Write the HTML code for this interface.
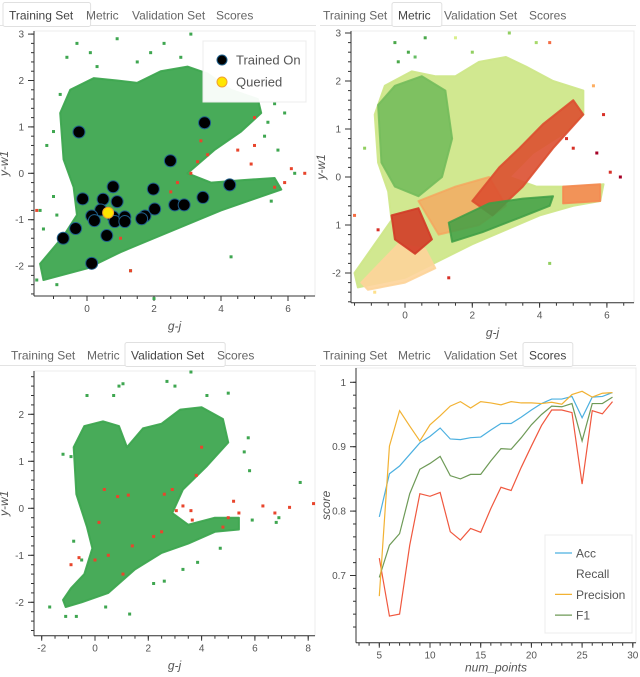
<!DOCTYPE html>
<html><head><meta charset="utf-8">
<style>
body{margin:0;background:#fff;width:640px;height:677px;overflow:hidden;font-family:"Liberation Sans",sans-serif}
svg{position:absolute;left:0;top:0}
text{font-family:"Liberation Sans",sans-serif}
</style></head>
<body>
<svg id="s" width="640" height="677" viewBox="0 0 640 677"></svg>
<script>
// ---- Scores chart data ----
const numPoints=[5,6,7,8,9,10,11,12,13,14,15,16,17,18,19,20,21,22,23,24,25,26,27,28];
const accVals=[0.791,0.858,0.870,0.888,0.906,0.916,0.929,0.912,0.911,0.914,0.915,0.926,0.936,0.936,0.946,0.957,0.967,0.974,0.974,0.978,0.945,0.977,0.978,0.984];
const recallVals=[0.727,0.637,0.640,0.747,0.827,0.823,0.829,0.768,0.755,0.773,0.767,0.804,0.837,0.832,0.868,0.901,0.933,0.957,0.957,0.953,0.842,0.956,0.951,0.970];
const precisionVals=[0.668,0.901,0.956,0.932,0.909,0.934,0.948,0.963,0.970,0.960,0.970,0.968,0.965,0.970,0.968,0.968,0.967,0.969,0.966,0.981,0.986,0.977,0.983,0.984];
const f1Vals=[0.697,0.747,0.765,0.827,0.865,0.874,0.885,0.855,0.850,0.857,0.857,0.878,0.897,0.896,0.914,0.934,0.950,0.963,0.962,0.967,0.909,0.967,0.967,0.977];
const scoreTicks=[0.7,0.8,0.9,1];
const scoreTickLabels=["0.7","0.8","0.9","1"];
const numTicks=[5,10,15,20,25,30];

// ---- Scatter data (g-j, y-w1) ----
const trainedX=[-0.24,3.51,2.49,4.26,0.78,1.98,-0.13,0.48,0.90,3.46,0.41,0.14,0.22,0.78,0.83,1.13,1.13,1.73,1.63,2.02,2.62,2.90,0.59,-0.34,-0.71,0.14];
const trainedY=[0.89,1.09,0.27,-0.25,-0.29,-0.34,-0.55,-0.56,-0.61,-0.52,-0.79,-0.92,-1.02,-0.94,-1.04,-0.94,-1.04,-0.92,-0.98,-0.77,-0.68,-0.68,-1.34,-1.19,-1.40,-1.94];
const queriedX=[0.63], queriedY=[-0.85];
const trainCloudX=[-1.3,0,1,2,3,4,5,5.8,5.6,4.6,3.7,3.0,3.8,4.6,5.2,5.1,4.3,3.6,3.0,2.2,1.5,0.9,0.2,-0.5,-0.8,-0.7,-0.4,-0.3,-0.7,-1.4];
const trainCloudY=[-2.3,-2.05,-1.7,-1.4,-1.1,-0.8,-0.55,-0.35,-0.1,-0.15,-0.2,0.0,0.5,0.9,1.3,1.6,1.8,2.15,2.3,2.2,1.95,2.0,2.05,1.8,1.3,0.3,-0.3,-0.9,-1.35,-1.95];
const trainOutX=[-0.3,0.9,3.1,-1.2,-1.0,-1.3,-1.5,-0.9,4.3,5.9,5.7,5.3,0.1,1.5,2.3,-0.8,-1.4,1.3,2.0,6.2,-0.6,0.3,1.9,2.8,4.6,5.5,-1.0,-0.9,5.6,5.4];
const trainOutY=[2.8,2.9,3.0,0.6,-0.5,-1.2,-2.3,-2.4,-1.8,1.3,0.5,0.8,2.6,2.4,2.8,1.7,-0.8,-2.1,-2.7,0.0,2.5,2.3,2.6,2.5,1.9,-0.6,0.9,-0.9,1.5,1.1];
const trainRedX=[-1.5,6.5,6.1,5.6,5.0,4.5,4.9,3.6,3.3,3.1,2.7,2.5,1.3,1.0,-0.3,5.0,3.4,5.9];
const trainRedY=[-0.8,0,0.1,-0.3,0.6,0.5,0.2,0.4,0.25,0.0,-0.2,-0.4,-2.1,-1.4,-1.2,1.2,0.7,-0.2];

const metricCloudX=[-1.4,0,1,2,3,4,5,5.8,5.9,4.9,3.9,3.1,3.8,4.7,5.3,5.3,4.4,3.6,3.0,2.2,1.5,0.9,0.2,-0.6,-0.9,-0.8,-0.5,-0.4,-0.9,-1.5];
const metricCloudY=[-2.3,-2.1,-1.75,-1.4,-1.1,-0.8,-0.6,-0.5,-0.15,-0.2,-0.2,0.0,0.5,0.9,1.3,1.8,2.0,2.3,2.5,2.4,2.1,2.1,2.2,1.9,1.3,0.3,-0.3,-0.9,-1.4,-2.0];
const greenLobeX=[-0.8,-0.3,0.5,1.2,1.4,1.1,0.4,-0.3,-0.7];
const greenLobeY=[1.5,1.9,2.1,1.8,0.8,0.0,-0.4,-0.2,0.3];
const orangeMidX=[0.4,1.5,2.5,3.0,2.2,1.0];
const orangeMidY=[-0.5,-0.2,0.0,-0.6,-1.0,-1.2];
const redBandX=[2.0,2.8,3.4,4.1,5.0,5.3,4.4,3.5,2.6];
const redBandY=[-0.5,0.2,0.6,1.1,1.6,1.3,0.6,-0.2,-0.8];
const redBlobX=[-0.4,0.4,0.8,0.3,-0.3];
const redBlobY=[-0.8,-0.65,-1.3,-1.6,-1.3];
const peachX=[-1.3,-0.2,0.6,0.9,0.0,-1.1];
const peachY=[-2.2,-1.4,-1.5,-1.9,-2.2,-2.35];
const greenBandX=[1.3,2.5,3.5,4.4,4.3,3.4,2.3,1.4];
const greenBandY=[-0.95,-0.55,-0.45,-0.4,-0.6,-0.85,-1.15,-1.35];
const orangeTipX=[4.7,5.8,5.8,4.7];
const orangeTipY=[-0.2,-0.15,-0.5,-0.55];
const metricOutX=[-0.3,0.6,1.5,3.1,-1.2,-1.5,-0.9,4.3,5.9,5.7,4.3,2.0,3.9,-0.8,1.3,6.1,6.4,5.0,-0.2,0.1,0.3,4.8,5.6];
const metricOutY=[2.8,2.9,2.9,3.0,0.6,-0.8,-2.4,-1.8,1.3,0.5,2.8,2.6,2.8,-1.1,-2.1,0.1,0.0,0.6,2.4,2.6,2.5,0.8,1.9];
const metricOutC=["#4aa84a","#4aa84a","#d9ef8b","#91cf60","#91cf60","#f46d43","#fee08b","#91cf60","#d73027","#a50026","#f46d43","#91cf60","#a6d96a","#d73027","#d73027","#d73027","#a50026","#d73027","#4aa84a","#4aa84a","#66bd63","#d73027","#fdae61"];

const valCloudX=[-1.1,-0.5,0.5,1.5,2.5,3.5,4.5,5.4,5.4,4.5,3.5,2.9,3.3,4.2,5.0,4.8,4.0,3.2,2.5,1.8,1.2,0.9,0.3,-0.4,-0.8,-0.7,-0.3,-0.1,-0.4,-0.9,-1.2];
const valCloudY=[-2.1,-2.0,-1.8,-1.3,-0.95,-0.75,-0.5,-0.45,-0.2,-0.2,-0.35,-0.1,0.4,0.9,1.4,1.9,2.15,2.1,1.8,1.7,1.3,1.75,1.85,1.75,1.3,0.3,-0.4,-0.85,-1.4,-1.7,-1.95];
const valOutX=[-1.7,-1.1,-0.7,-1.2,-0.9,-0.3,0.7,0.9,1.05,2.7,3.0,3.6,4.2,5.0,5.75,5.6,5.8,7.7,6.8,6.9,5.9,4.7,3.85,3.3,2.6,2.2,1.3,0.4,-0.8,-0.5];
const valOutY=[-2.1,-2.3,-2.3,1.15,1.1,2.4,2.4,2.6,2.65,2.7,2.6,2.9,2.4,2.45,1.5,1.2,0.8,0.55,-0.3,-0.2,-0.25,-0.85,-1.15,-1.3,-1.55,-1.6,-2.25,-2.1,-0.7,-1.1];
const valRedX=[-0.9,-0.6,0,0.15,0.35,0.85,1.25,1.4,2.2,2.5,2.9,3.05,3.3,3.6,3.65,3.8,4.0,4.8,5.0,5.2,5.4,6.3,6.75,7.3,8.2,1.05,0.5,2.6];
const valRedY=[-1.2,-1.05,-1.1,-0.3,0.4,0.25,0.28,-0.8,-0.6,-0.5,0.4,-0.05,0.05,-0.05,-0.25,0.7,1.3,-0.4,-0.2,0.15,-0.1,0.05,-0.1,0.02,0.1,-1.4,-1.0,0.3];

const NS="http://www.w3.org/2000/svg";
const S=document.getElementById('s');
function el(tag,attrs,parent,txt){const e=document.createElementNS(NS,tag);for(const k in attrs)e.setAttribute(k,attrs[k]);if(txt!==undefined)e.textContent=txt;(parent||S).appendChild(e);return e;}
function lin(d0,d1,r0,r1){return v=>r0+(v-d0)*(r1-r0)/(d1-d0);}

// ---- Tabs ----
const tabNames=["Training Set","Metric","Validation Set","Scores"];
function tabs(ox,oy,tx,active,prefix){
  const g=el('g',{});
  
  
  el('line',{x1:ox,y1:oy+25.5,x2:ox+316,y2:oy+25.5,stroke:'#e3e3e3'},g);
  tabNames.forEach((n,i)=>{
    const t=el('g',{},g);
    
    
    const w=n.length*6.3+12;
    if(i===active){el('rect',{x:tx[i]-6,y:oy+2.5,width:w,height:24,fill:'#fff',stroke:'#e0e0e0',rx:2},t);}
    el('text',{x:tx[i],y:oy+19.5,'font-size':12,fill:i===active?'#444':'#666'},t,n);
  });
}
tabs(0,0,[9,86,132,216],0,'training');
tabs(320,0,[323,398,444,529],1,'metric');
tabs(0,340,[11,87,131,217],2,'validation');
tabs(320,340,[323,398,444,529],3,'scores');

// ---- Axis helper ----
function axes(g,box,sx,sy,xt,xl,yt,yl,xminor,yminor,xlabel,ylabel,xlOff){
  el('rect',{x:box.l,y:box.t,width:box.r-box.l,height:box.b-box.t,fill:'none',stroke:'#ececec'},g);
  el('line',{x1:box.l,y1:box.b,x2:box.r,y2:box.b,stroke:'#333'},g);
  el('line',{x1:box.l,y1:box.t,x2:box.l,y2:box.b,stroke:'#333'},g);
  xminor.forEach(v=>{const x=sx(v);if(x>=box.l&&x<=box.r)el('line',{x1:x,y1:box.b,x2:x,y2:box.b+3,stroke:'#333'},g);});
  yminor.forEach(v=>{const y=sy(v);if(y>=box.t&&y<=box.b)el('line',{x1:box.l-3,y1:y,x2:box.l,y2:y,stroke:'#333'},g);});
  xt.forEach((v,i)=>{const x=sx(v);el('line',{x1:x,y1:box.b,x2:x,y2:box.b+5,stroke:'#333'},g);
    el('text',{x:x,y:box.b+16,'font-size':10,fill:'#555','text-anchor':'middle'},g,xl[i]);});
  yt.forEach((v,i)=>{const y=sy(v);el('line',{x1:box.l-6,y1:y,x2:box.l,y2:y,stroke:'#333'},g);
    el('text',{x:box.l-10,y:y+3.5,'font-size':10,fill:'#555','text-anchor':'end'},g,yl[i]);});
  const xa=el('text',{x:(box.l+box.r)/2,y:box.b+(xlOff||35),'font-size':12,fill:'#555','font-style':'italic','text-anchor':'middle'},g,xlabel);
  
  const cy=(box.t+box.b)/2;
  const ya=el('text',{x:box.l-26,y:cy,'font-size':12,fill:'#555','font-style':'italic','text-anchor':'middle',transform:`rotate(-90 ${box.l-26} ${cy})`},g,ylabel);
  
}
function range(a,b,s){const r=[];for(let v=a;v<=b+1e-9;v+=s)r.push(+v.toFixed(4));return r;}
function poly(g,xs,ys,sx,sy,fill,op){
  return el('polygon',{points:xs.map((x,i)=>sx(x)+','+sy(ys[i])).join(' '),fill:fill,'fill-opacity':op||1,stroke:fill,'stroke-opacity':op||1,'stroke-width':2,'stroke-linejoin':'round'},g);
}
function dots(g,xs,ys,sx,sy,fill,sz,name){
  xs.forEach((x,i)=>{const r=el('rect',{x:sx(x)-sz/2,y:sy(ys[i])-sz/2,width:sz,height:sz,fill:Array.isArray(fill)?fill[i]:fill},g);
    });
}

// ---- Panel 1: Training set ----
(function(){
  const g=el('g',{});
  const box={l:34,r:315,t:31,b:296};
  const sx=lin(0,2,87,154), sy=lin(0,1,173.3,126.9);
  axes(g,box,sx,sy,[0,2,4,6],["0","2","4","6"],[-2,-1,0,1,2,3],["-2","-1","0","1","2","3"],range(-1,6.5,0.5),range(-2.6,3,0.2),'g-j','y-w1',34);
  const c=poly(g,trainCloudX,trainCloudY,sx,sy,'#3ea650',0.95);
  dots(g,trainOutX,trainOutY,sx,sy,'#3ea650',3,'training-point');
  dots(g,trainRedX,trainRedY,sx,sy,'#e8452c',3,'misclassified-point');
  trainedX.forEach((x,i)=>{const ci=el('circle',{cx:sx(x),cy:sy(trainedY[i]),r:6,fill:'#000',stroke:'#1f5f8b','stroke-width':1},g);
    });
  queriedX.forEach((x,i)=>{const ci=el('circle',{cx:sx(x),cy:sy(queriedY[i]),r:5.5,fill:'#ffe600',stroke:'#f0a030','stroke-width':1},g);
    });
  const lg=el('g',{},g);
  el('rect',{x:203,y:41,width:103,height:61,fill:'#fff','fill-opacity':0.95,stroke:'#ececec'},lg);
  el('circle',{cx:222,cy:60,r:5,fill:'#000',stroke:'#1f5f8b'},lg);
  el('text',{x:236,y:64.5,'font-size':13,fill:'#555'},lg,'Trained On');
  el('circle',{cx:222,cy:82,r:5,fill:'#ffe600',stroke:'#f0a030'},lg);
  el('text',{x:236,y:86.5,'font-size':13,fill:'#555'},lg,'Queried');
})();

// ---- Panel 2: Metric ----
(function(){
  const g=el('g',{});
  const box={l:351,r:634,t:31,b:302.7};
  const sx=lin(0,2,405,472.3), sy=lin(0,1,177,129);
  axes(g,box,sx,sy,[0,2,4,6],["0","2","4","6"],[-2,-1,0,1,2,3],["-2","1","0","1","2","3"],range(-1.5,6.5,0.5),range(-2.6,3,0.2),'g-j','y-w1',34);
  const layers=[[metricCloudX,metricCloudY,'#cfe78a','metric-cloud',0.95],[greenLobeX,greenLobeY,'#74bd5c','metric-green-region',0.9],
    [peachX,peachY,'#fdd49a','metric-peach-region',0.9],[orangeMidX,orangeMidY,'#f7a35c','metric-orange-region',0.75],[redBlobX,redBlobY,'#d23b27','metric-red-cluster',0.9],
    [redBandX,redBandY,'#dc4f30','metric-red-band',0.9],[greenBandX,greenBandY,'#3f9f45','metric-green-band',0.85],[orangeTipX,orangeTipY,'#f58a52','metric-orange-tip',0.9]];
  layers.forEach(L=>{const p=poly(g,L[0],L[1],sx,sy,L[2],L[4]);});
  dots(g,metricOutX,metricOutY,sx,sy,metricOutC,3,'metric-point');
})();

// ---- Panel 3: Validation ----
(function(){
  const g=el('g',{});
  const box={l:34,r:315,t:371,b:635.7};
  const sx=lin(0,2,95,148.3), sy=lin(0,1,508.3,461.3);
  axes(g,box,sx,sy,[-2,0,2,4,6,8],["-2","0","2","4","6","8"],[-2,-1,0,1,2],["-2","-1","0","1","2"],range(-2,8,0.5),range(-2.6,2.8,0.2),'g-j','y-w1',34);
  const c=poly(g,valCloudX,valCloudY,sx,sy,'#3ea650',0.95);
  dots(g,valOutX,valOutY,sx,sy,'#3ea650',3,'validation-point');
  dots(g,valRedX,valRedY,sx,sy,'#e8452c',3,'misclassified-point');
})();

// ---- Panel 4: Scores ----
(function(){
  const g=el('g',{});
  const box={l:356,r:636,t:368,b:642.7};
  const sx=lin(5,10,379.3,430), sy=lin(0.9,1,446.7,382.3);
  axes(g,box,sx,sy,numTicks,numTicks.map(String),scoreTicks,scoreTickLabels,range(3,30,1),range(0.62,1,0.02),'num_points','score',29);
  const series=[[recallVals,'#f0583f','recall-line'],[f1Vals,'#6e9a57','f1-line'],[accVals,'#4cb0e0','acc-line'],[precisionVals,'#f2b233','precision-line']];
  series.forEach(s=>{const p=el('polyline',{points:numPoints.map((n,i)=>sx(n)+','+sy(s[0][i])).join(' '),fill:'none',stroke:s[1],'stroke-width':1.2},g);
    });
  const lg=el('g',{},g);
  el('rect',{x:545,y:535,width:87,height:98,fill:'#fff',stroke:'#ececec'},lg);
  const items=[['Acc','#4cb0e0'],['Recall',null],['Precision','#f2b233'],['F1','#6e9a57']];
  items.forEach((it,i)=>{const y=553+i*20.7;
    if(it[1])el('line',{x1:555,y1:y,x2:572,y2:y,stroke:it[1],'stroke-width':1.2},lg);
    el('text',{x:576,y:y+4.5,'font-size':12,fill:'#555'},lg,it[0]);});
})();
</script>
</body></html>
